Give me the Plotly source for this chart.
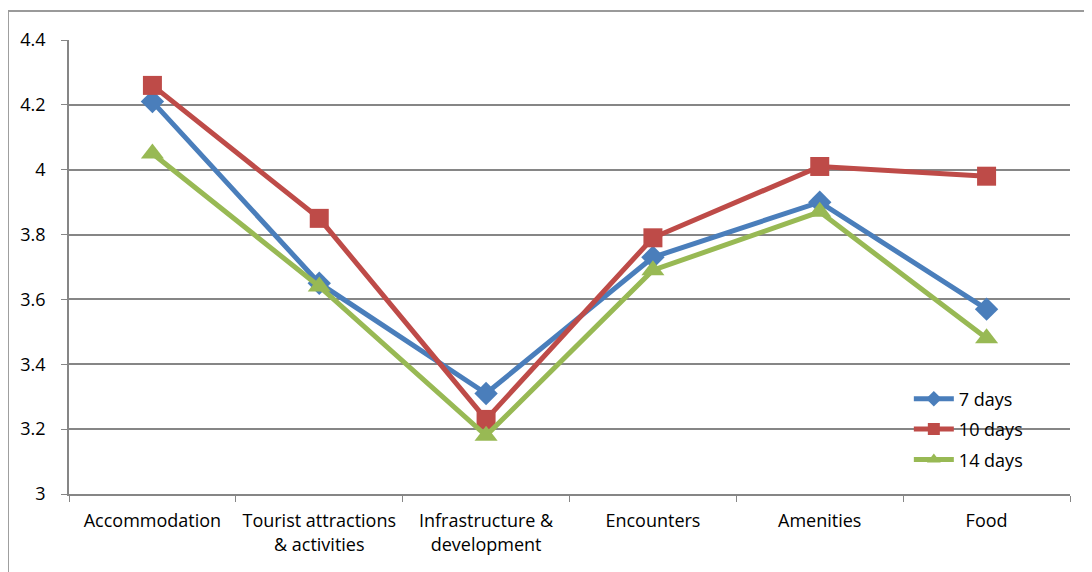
import plotly.graph_objects as go

categories = ["Accommodation", "Tourist attractions<br>& activities", "Infrastructure &<br>development",
              "Encounters", "Amenities", "Food"]
days_7 = [4.21, 3.65, 3.31, 3.73, 3.90, 3.57]
days_10 = [4.26, 3.85, 3.23, 3.79, 4.01, 3.98]
days_14 = [4.05, 3.64, 3.18, 3.69, 3.87, 3.48]
y_ticks = [3, 3.2, 3.4, 3.6, 3.8, 4, 4.2, 4.4]

series = [
    ("7 days", days_7, "#4a7ebb", "diamond", 18),
    ("10 days", days_10, "#be4b48", "square", 19),
    ("14 days", days_14, "#98b954", "triangle-up", 20),
]

fig = go.Figure()
for name, vals, color, symbol, size in series:
    fig.add_trace(go.Scatter(
        x=categories, y=vals, name=name, mode="lines+markers", legendgroup=name,
        line=dict(color=color, width=5),
        marker=dict(symbol=symbol, size=size, color=color),
    ))

# outer chart border
fig.add_shape(type="rect", xref="paper", yref="paper",
              x0=-0.061, x1=1.2, y0=-0.3, y1=1.064,
              line=dict(color="#9a9a9a", width=2), fillcolor="rgba(0,0,0,0)", layer="below")

fig.update_layout(
    width=1092, height=572,
    margin=dict(l=61, r=30, t=32, b=86, autoexpand=False),
    paper_bgcolor="white", plot_bgcolor="white",
    font=dict(family="Open Sans, Liberation Sans, sans-serif", size=18, color="black"),
    showlegend=True,
    legend=dict(x=0.839, y=0.25, xanchor="left", yanchor="top",
                bgcolor="rgba(0,0,0,0)", font=dict(size=18),
                itemwidth=40, itemsizing="constant", tracegroupgap=4),
    xaxis=dict(
        range=[-0.5, 5.5],
        showgrid=False, showline=True, linecolor="#868686", linewidth=1.5,
        ticks="outside", tickson="boundaries", ticklen=6, tickcolor="#868686",
        tickfont=dict(size=18), automargin=False, ticklabelstandoff=10,
    ),
    yaxis=dict(
        range=[3, 4.4], tickvals=y_ticks, ticktext=[f"{v:g}" for v in y_ticks],
        showgrid=True, gridcolor="#868686", gridwidth=1.5,
        showline=True, linecolor="#868686", linewidth=1.5,
        ticks="outside", ticklen=6, tickcolor="#868686",
        zeroline=False, tickfont=dict(size=18), automargin=False, ticklabelstandoff=12,
    ),
)

fig.write_html("out.html")
